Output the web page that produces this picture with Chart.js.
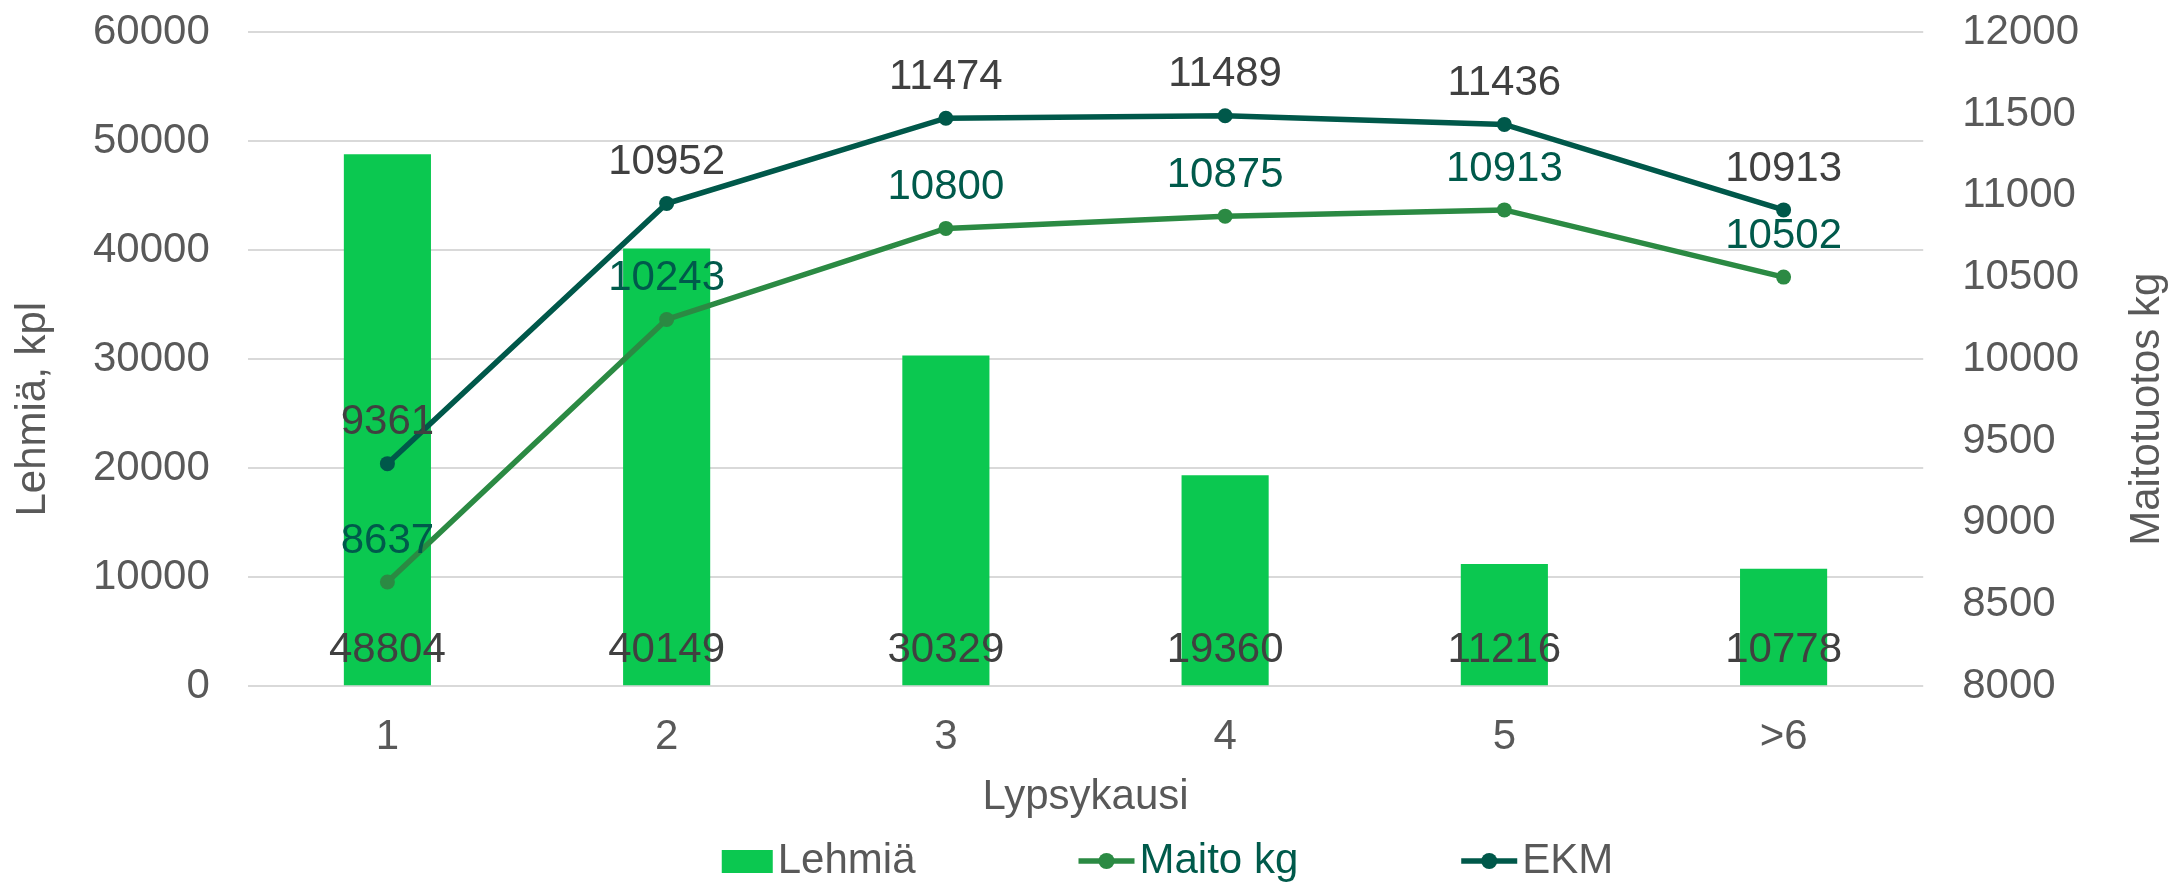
<!DOCTYPE html>
<html>
<head>
<meta charset="utf-8">
<script src="https://cdn.jsdelivr.net/npm/chart.js@4"></script>
<style>
  html, body { margin: 0; padding: 0; background: #fff; }
  #wrap { width: 2177px; height: 883px; }
</style>
</head>
<body>
<div id="wrap"><canvas id="chart"></canvas></div>
<script>
const lypsykaudet = ['1', '2', '3', '4', '5', '>6'];
const lehmia = [48804, 40149, 30329, 19360, 11216, 10778];
const maitoKg = [8637, 10243, 10800, 10875, 10913, 10502];
const ekm = [9361, 10952, 11474, 11489, 11436, 10913];

const GRAY = '#595959';
const LABEL_GRAY = '#404040';
const BAR_GREEN = '#0BC850';
const MAITO_GREEN = '#2B8A43';
const EKM_GREEN = '#00584A';
const MAITO_TEXT = '#005A4B';
const NONE = 'rgba(0,0,0,0)';

Chart.defaults.font.family = "'Liberation Sans', Arial, sans-serif";
Chart.defaults.font.size = 42;
Chart.defaults.color = GRAY;

// arvot pylväiden ja pisteiden kohdalle
const dataLabels = {
  id: 'dataLabels',
  afterDatasetsDraw(chart) {
    const ctx = chart.ctx;
    ctx.save();
    ctx.font = "42px 'Liberation Sans', Arial, sans-serif";
    ctx.textAlign = 'center';
    ctx.textBaseline = 'middle';
    chart.data.datasets.forEach((ds, i) => {
      const meta = chart.getDatasetMeta(i);
      meta.data.forEach((el, j) => {
        ctx.fillStyle = ds.labelColor;
        const y = ds.type === 'bar' ? chart.chartArea.bottom - 36 : el.y - 41;
        ctx.fillText(String(ds.data[j]), el.x, y);
      });
    });
    ctx.restore();
  }
};

// akselien otsikot (molemmat luetaan alhaalta ylös) ja selite
const extras = {
  id: 'extras',
  afterDraw(chart) {
    const ctx = chart.ctx;
    const area = chart.chartArea;
    const midY = (area.top + area.bottom) / 2 + 50;
    ctx.save();
    ctx.font = "42px 'Liberation Sans', Arial, sans-serif";
    ctx.fillStyle = GRAY;
    ctx.textAlign = 'center';
    ctx.textBaseline = 'middle';
    [[chart.scales.y.left - 53, 'Lehmiä, kpl'], [chart.scales.y2.right + 61, 'Maitotuotos kg']].forEach(([x, t]) => {
      ctx.save();
      ctx.translate(x, midY);
      ctx.rotate(-Math.PI / 2);
      ctx.fillText(t, 0, 0);
      ctx.restore();
    });

    const items = [
      { text: 'Lehmiä', color: GRAY, kind: 'box', fill: BAR_GREEN },
      { text: 'Maito kg', color: MAITO_TEXT, kind: 'line', fill: MAITO_GREEN },
      { text: 'EKM', color: GRAY, kind: 'line', fill: EKM_GREEN }
    ];
    const ly = 861;
    let total = 0;
    items.forEach(it => {
      it.iconW = it.kind === 'box' ? 51 : 56;
      it.w = ctx.measureText(it.text).width;
      total += it.iconW + 5 + it.w;
    });
    total += 163 * (items.length - 1);
    let x = chart.width / 2 + 79 - total / 2;
    ctx.textAlign = 'left';
    items.forEach(it => {
      if (it.kind === 'box') {
        ctx.fillStyle = it.fill;
        ctx.fillRect(x, ly - 11, it.iconW, 23);
      } else {
        ctx.strokeStyle = it.fill;
        ctx.lineWidth = 5.5;
        ctx.beginPath();
        ctx.moveTo(x, ly);
        ctx.lineTo(x + it.iconW, ly);
        ctx.stroke();
        ctx.fillStyle = it.fill;
        ctx.beginPath();
        ctx.arc(x + it.iconW / 2, ly, 8, 0, Math.PI * 2);
        ctx.fill();
      }
      x += it.iconW + 5;
      ctx.fillStyle = it.color;
      ctx.fillText(it.text, x, ly);
      x += it.w + 163;
    });
    ctx.restore();
  }
};

new Chart(
  document.getElementById('chart'),
  {
    type: 'bar',
    data: {
      labels: lypsykaudet,
      datasets: [
        {
          type: 'line',
          label: 'EKM',
          data: ekm,
          yAxisID: 'y2',
          borderColor: EKM_GREEN,
          backgroundColor: EKM_GREEN,
          borderWidth: 5.5,
          pointRadius: 7.5,
          pointBorderWidth: 0,
          tension: 0,
          labelColor: LABEL_GRAY,
          order: 1
        },
        {
          type: 'line',
          label: 'Maito kg',
          data: maitoKg,
          yAxisID: 'y2',
          borderColor: MAITO_GREEN,
          backgroundColor: MAITO_GREEN,
          borderWidth: 5.5,
          pointRadius: 7.5,
          pointBorderWidth: 0,
          tension: 0,
          labelColor: MAITO_TEXT,
          order: 2
        },
        {
          type: 'bar',
          label: 'Lehmiä',
          data: lehmia,
          yAxisID: 'y',
          backgroundColor: BAR_GREEN,
          categoryPercentage: 1,
          barPercentage: 0.312,
          labelColor: LABEL_GRAY,
          order: 3
        }
      ]
    },
    options: {
      responsive: true,
      maintainAspectRatio: false,
      animation: false,
      layout: { padding: { left: 86, right: 91, top: 0, bottom: 60 } },
      plugins: {
        legend: { display: false },
        tooltip: { enabled: false }
      },
      scales: {
        x: {
          grid: { display: false, tickLength: 26 },
          border: { display: false },
          ticks: { padding: 0, color: GRAY },
          title: {
            display: true,
            text: 'Lypsykausi',
            color: GRAY,
            padding: { top: 10, bottom: 0 }
          }
        },
        y: {
          position: 'left',
          min: 0,
          max: 60000,
          border: { display: false },
          grid: { color: '#D9D9D9', lineWidth: 2, tickLength: 31, tickColor: NONE },
          ticks: {
            stepSize: 10000,
            padding: 7,
            color: GRAY,
            callback: v => String(v)
          }
        },
        y2: {
          position: 'right',
          min: 8000,
          max: 12000,
          border: { display: false },
          grid: { drawOnChartArea: false, tickLength: 32, tickColor: NONE },
          ticks: {
            stepSize: 500,
            padding: 7,
            color: GRAY,
            callback: v => String(v)
          }
        }
      }
    },
    plugins: [dataLabels, extras]
  }
);
</script>
</body>
</html>
